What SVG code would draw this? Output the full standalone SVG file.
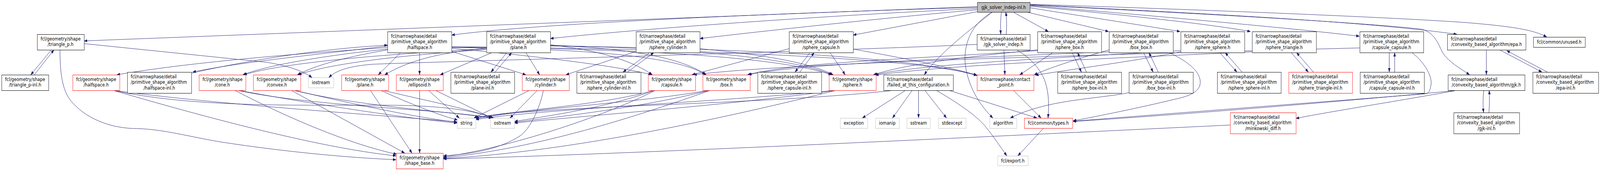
<svg xmlns="http://www.w3.org/2000/svg" width="5041" height="439" viewBox="0 0 5041 439" preserveAspectRatio="none">
<style>
svg{width:100vw;height:100vh;display:block}
.n{fill:#fff;stroke:#000;stroke-width:1}
.r{fill:#fff;stroke:#ff0000;stroke-width:1}
.x{fill:#fff;stroke:#bfbfbf;stroke-width:1}
.rt{fill:#bfbfbf;stroke:#000;stroke-width:1}
text{font-family:"DejaVu Sans","Liberation Sans",sans-serif;font-size:13px;fill:#000}
.m{text-anchor:middle}
#edges path{fill:none;stroke:#191970;stroke-width:1;marker-end:url(#a)}
</style>
<defs>
<marker id="a" markerWidth="10" markerHeight="8" refX="10" refY="4" orient="auto" markerUnits="userSpaceOnUse">
<path d="M0,0.5 L10,4 L0,7.5 z" fill="#191970" stroke="#191970" stroke-width="0.5"/>
</marker>
</defs>
<rect width="5041" height="439" fill="#fff"/>
<g id="edges">
<path d="M3079,17 L265,105"/>
<path d="M3079,19 C2400,35 1700,60 1423,90"/>
<path d="M3079,22 C2600,40 2000,75 1734,99"/>
<path d="M3079,25 C2800,45 2400,80 2205,99"/>
<path d="M3079,30 L2688,90"/>
<path d="M3126,31 C3060,75 2960,135 2912,192"/>
<path d="M3127,31 C3040,70 3035,140 3043,175 C3055,230 3090,272 3128,303"/>
<path d="M3155,31 C3152,50 3152,70 3153,88"/>
<path d="M3170,88 C3172,70 3172,50 3169,31"/>
<path d="M3192,31 L3303,81"/>
<path d="M3235,31 L3493,81"/>
<path d="M3245,20 C3400,40 3600,65 3718,81"/>
<path d="M3245,16 C3500,35 3800,60 3940,81"/>
<path d="M3245,14 C3700,45 4100,75 4283,93"/>
<path d="M3245,12 C3800,35 4300,55 4590,88"/>
<path d="M3245,13 C3800,36 4300,58 4480,75 C4520,85 4530,110 4545,135 C4565,160 4600,175 4630,192"/>
<path d="M3245,11 C3800,25 4400,45 4620,58 C4750,67 4830,75 4873,95"/>
<path d="M3163,128 L3166,192"/>
<path d="M3203,128 C3250,150 3280,180 3293,210 C3305,240 3305,270 3302,303"/>
<path d="M3078,114 C2500,135 1300,160 1173,165 C1100,170 1060,180 1036,199"/>
<path d="M162,128 L97,192"/>
<path d="M108,192 L170,128"/>
<path d="M189,128 C189,200 200,240 230,265 C280,310 360,330 430,330 C520,332 600,352 700,365 C900,390 1100,405 1248,410"/>
<path d="M265,112 L841,160 C900,168 950,180 983,199"/>
<path d="M1221,118 C1000,140 750,160 607,185"/>
<path d="M603,188 C750,160 1000,125 1221,116"/>
<path d="M1221,122 C900,140 600,160 368,192"/>
<path d="M1221,126 C1050,140 850,165 765,192"/>
<path d="M1221,128 C1100,145 1000,165 937,192"/>
<path d="M1262,135 L1192,192"/>
<path d="M1322,135 L1322,192"/>
<path d="M1423,132 L1657,192"/>
<path d="M1423,124 C1700,145 1950,170 2053,192"/>
<path d="M1423,122 C1900,125 2150,150 2222,192"/>
<path d="M1423,121 C2000,125 2450,145 2620,192"/>
<path d="M1423,120 C2200,125 2900,150 3078,193"/>
<path d="M1597,135 L1547,185"/>
<path d="M1560,185 L1612,135"/>
<path d="M1550,135 L1387,192"/>
<path d="M1533,123 C1400,135 1300,150 1212,192"/>
<path d="M1533,125 C1200,140 900,160 768,192"/>
<path d="M1533,127 C1300,140 1050,160 940,192"/>
<path d="M1657,135 L1700,192"/>
<path d="M1734,115 C1900,130 2000,160 2055,192"/>
<path d="M1734,116 C2000,125 2150,150 2225,192"/>
<path d="M1734,117 C2200,125 2500,150 2622,192"/>
<path d="M1734,118 C2400,125 2900,150 3078,194"/>
<path d="M2047,135 L1963,185"/>
<path d="M1977,185 L2060,135"/>
<path d="M2004,132 L1783,192"/>
<path d="M2205,125 C2400,140 2550,160 2625,192"/>
<path d="M2552,135 L2505,185"/>
<path d="M2520,185 L2565,135"/>
<path d="M2486,125 L2180,192"/>
<path d="M2615,135 L2663,192"/>
<path d="M2688,126 C2850,150 2980,170 3078,193"/>
<path d="M3378,135 L3407,185"/>
<path d="M3423,185 L3395,135"/>
<path d="M3317,135 L3213,192"/>
<path d="M3269,130 C2900,150 2500,160 2355,192"/>
<path d="M3269,128 C3050,145 2850,165 2752,192"/>
<path d="M3603,135 L3633,185"/>
<path d="M3649,185 L3620,135"/>
<path d="M3494,133 C3000,150 2500,165 2358,192"/>
<path d="M3494,128 C3400,150 3320,170 3258,192"/>
<path d="M3683,135 C3750,160 3790,190 3780,220 C3770,240 3740,248 3700,255 C3600,275 3450,300 3381,310"/>
<path d="M3557,238 C3450,255 3300,255 3183,303"/>
<path d="M3843,135 L3897,185"/>
<path d="M3913,185 L3860,135"/>
<path d="M3720,130 C3300,150 2900,165 2755,192"/>
<path d="M3720,133 C3550,160 3400,175 3262,193"/>
<path d="M4068,135 L4122,185"/>
<path d="M4138,185 L4085,135"/>
<path d="M3945,133 C3500,150 3000,165 2758,193"/>
<path d="M4377,135 L4377,185"/>
<path d="M4394,185 L4394,135"/>
<path d="M4284,123 C3500,140 2500,160 2185,192"/>
<path d="M4448,135 C4490,160 4515,200 4508,220 C4505,235 4500,240 4490,241 L3381,311"/>
<path d="M4683,128 L4683,192"/>
<path d="M4725,128 L4858,185"/>
<path d="M4875,185 L4747,130"/>
<path d="M4675,232 C4672,250 4672,270 4674,289"/>
<path d="M4691,289 C4693,270 4693,250 4692,232"/>
<path d="M4583,233 C4400,260 4200,285 4083,304"/>
<path d="M4593,232 C4300,255 3800,290 3381,312"/>
<path d="M3876,321 C3000,355 2000,395 1397,408"/>
<path d="M2853,232 L2717,303"/>
<path d="M2874,232 L2812,303"/>
<path d="M2894,232 L2894,303"/>
<path d="M2914,232 L2982,303"/>
<path d="M2990,232 L3267,303"/>
<path d="M2950,232 C3030,270 3080,300 3105,325 C3130,350 3150,375 3172,400"/>
<path d="M2815,232 C2400,270 1700,270 1495,303"/>
<path d="M3193,232 L3280,303"/>
<path d="M3288,329 L3207,400"/>
<path d="M357,232 C700,270 1200,295 1440,313"/>
<path d="M357,232 C600,275 900,270 1200,270 C1400,270 1500,285 1552,303"/>
<path d="M357,232 C600,290 1000,380 1248,400"/>
<path d="M753,232 C1000,270 1300,305 1440,316"/>
<path d="M747,232 C1000,275 1400,280 1550,303"/>
<path d="M740,232 C900,300 1100,370 1250,396"/>
<path d="M928,232 C1100,265 1300,300 1440,314"/>
<path d="M925,232 C1150,275 1400,285 1552,303"/>
<path d="M918,232 L1275,393"/>
<path d="M1167,232 L1298,393"/>
<path d="M1207,232 C1350,260 1480,280 1555,303"/>
<path d="M1200,232 C1300,270 1400,300 1442,308"/>
<path d="M1322,232 L1322,393"/>
<path d="M1350,232 L1447,303"/>
<path d="M1372,232 L1550,303"/>
<path d="M1668,232 L1493,303"/>
<path d="M1693,232 L1607,303"/>
<path d="M1712,232 C1700,280 1670,330 1640,348 C1580,380 1500,395 1397,400"/>
<path d="M2060,232 C1900,270 1600,285 1497,303"/>
<path d="M2062,232 C1900,280 1700,300 1621,312"/>
<path d="M2065,232 C1900,300 1600,380 1397,403"/>
<path d="M2233,232 C2000,265 1650,280 1499,305"/>
<path d="M2235,232 C2000,280 1750,300 1621,314"/>
<path d="M2238,232 C2000,300 1700,380 1397,405"/>
<path d="M2630,232 C2300,260 1700,280 1499,307"/>
<path d="M2632,232 C2300,270 1800,300 1621,316"/>
<path d="M2634,232 C2300,300 1800,390 1397,407"/>
</g>
<g id="node-root"><rect class="rt" x="3079.5" y="6.5" width="166" height="25"/><text class="m" x="3162" y="23">gjk_solver_indep-inl.h</text></g>
<g id="node-gsi"><rect class="n" x="3078.5" y="88.5" width="167" height="40"/><text x="3089" y="104">fcl/narrowphase/detail</text><text class="m" x="3161.5" y="118.5">/gjk_solver_indep.h</text></g>
<g id="node-tri"><rect class="n" x="117.5" y="88.5" width="148" height="40"/><text x="128" y="104">fcl/geometry/shape</text><text class="m" x="191" y="118.5">/triangle_p.h</text></g>
<g id="node-tri-inl"><rect class="n" x="5.5" y="192.5" width="148" height="40"/><text x="16" y="208">fcl/geometry/shape</text><text class="m" x="79" y="222.5">/triangle_p-inl.h</text></g>
<g id="node-hs-shape"><rect class="r" x="229.5" y="192.5" width="148" height="40"/><text x="240" y="208">fcl/geometry/shape</text><text class="m" x="303" y="222.5">/halfspace.h</text></g>
<g id="node-hs-inl"><rect class="n" x="401.5" y="185.5" width="202" height="54"/><text x="412" y="201">fcl/narrowphase/detail</text><text x="412" y="215.5">/primitive_shape_algorithm</text><text class="m" x="502" y="230">/halfspace-inl.h</text></g>
<g id="node-cone"><rect class="r" x="627.5" y="192.5" width="147" height="40"/><text x="638" y="208">fcl/geometry/shape</text><text class="m" x="700.5" y="222.5">/cone.h</text></g>
<g id="node-convex"><rect class="r" x="798.5" y="192.5" width="149" height="40"/><text x="809" y="208">fcl/geometry/shape</text><text class="m" x="872.5" y="222.5">/convex.h</text></g>
<g id="node-iostream"><rect class="x" x="971.5" y="199.5" width="80" height="26"/><text class="m" x="1011" y="216">iostream</text></g>
<g id="node-plane-shape"><rect class="r" x="1076.5" y="192.5" width="148" height="40"/><text x="1087" y="208">fcl/geometry/shape</text><text class="m" x="1150" y="222.5">/plane.h</text></g>
<g id="node-np-hs"><rect class="n" x="1221.5" y="81.5" width="202" height="54"/><text x="1232" y="97">fcl/narrowphase/detail</text><text x="1232" y="111.5">/primitive_shape_algorithm</text><text class="m" x="1322" y="126">/halfspace.h</text></g>
<g id="node-ellipsoid"><rect class="r" x="1248.5" y="192.5" width="148" height="40"/><text x="1259" y="208">fcl/geometry/shape</text><text class="m" x="1322" y="222.5">/ellipsoid.h</text></g>
<g id="node-shape-base"><rect class="r" x="1248.5" y="393.5" width="148" height="40"/><text x="1259" y="409">fcl/geometry/shape</text><text class="m" x="1322" y="423.5">/shape_base.h</text></g>
<g id="node-np-plane"><rect class="n" x="1533.5" y="81.5" width="201" height="54"/><text x="1544" y="97">fcl/narrowphase/detail</text><text x="1544" y="111.5">/primitive_shape_algorithm</text><text class="m" x="1633.5" y="126">/plane.h</text></g>
<g id="node-plane-inl"><rect class="n" x="1420.5" y="185.5" width="201" height="54"/><text x="1431" y="201">fcl/narrowphase/detail</text><text x="1431" y="215.5">/primitive_shape_algorithm</text><text class="m" x="1520.5" y="230">/plane-inl.h</text></g>
<g id="node-string"><rect class="x" x="1440.5" y="303.5" width="59" height="26"/><text class="m" x="1469.5" y="320">string</text></g>
<g id="node-ostream"><rect class="x" x="1545.5" y="303.5" width="76" height="26"/><text class="m" x="1583" y="320">ostream</text></g>
<g id="node-cylinder"><rect class="r" x="1645.5" y="192.5" width="148" height="40"/><text x="1656" y="208">fcl/geometry/shape</text><text class="m" x="1719" y="222.5">/cylinder.h</text></g>
<g id="node-sc-inl"><rect class="n" x="1817.5" y="185.5" width="202" height="54"/><text x="1828" y="201">fcl/narrowphase/detail</text><text x="1828" y="215.5">/primitive_shape_algorithm</text><text class="m" x="1918" y="230">/sphere_cylinder-inl.h</text></g>
<g id="node-sc"><rect class="n" x="2004.5" y="81.5" width="201" height="54"/><text x="2015" y="97">fcl/narrowphase/detail</text><text x="2015" y="111.5">/primitive_shape_algorithm</text><text class="m" x="2104.5" y="126">/sphere_cylinder.h</text></g>
<g id="node-capsule"><rect class="r" x="2042.5" y="192.5" width="149" height="40"/><text x="2053" y="208">fcl/geometry/shape</text><text class="m" x="2116.5" y="222.5">/capsule.h</text></g>
<g id="node-box"><rect class="r" x="2214.5" y="192.5" width="149" height="40"/><text x="2225" y="208">fcl/geometry/shape</text><text class="m" x="2288.5" y="222.5">/box.h</text></g>
<g id="node-scap-inl"><rect class="n" x="2387.5" y="185.5" width="201" height="54"/><text x="2398" y="201">fcl/narrowphase/detail</text><text x="2398" y="215.5">/primitive_shape_algorithm</text><text class="m" x="2487.5" y="230">/sphere_capsule-inl.h</text></g>
<g id="node-scap"><rect class="n" x="2486.5" y="81.5" width="202" height="54"/><text x="2497" y="97">fcl/narrowphase/detail</text><text x="2497" y="111.5">/primitive_shape_algorithm</text><text class="m" x="2587" y="126">/sphere_capsule.h</text></g>
<g id="node-sphere"><rect class="r" x="2612.5" y="192.5" width="148" height="40"/><text x="2623" y="208">fcl/geometry/shape</text><text class="m" x="2686" y="222.5">/sphere.h</text></g>
<g id="node-failed"><rect class="n" x="2784.5" y="192.5" width="219" height="40"/><text x="2795" y="208">fcl/narrowphase/detail</text><text class="m" x="2893.5" y="222.5">/failed_at_this_configuration.h</text></g>
<g id="node-exception"><rect class="x" x="2647.5" y="303.5" width="86" height="26"/><text class="m" x="2690" y="320">exception</text></g>
<g id="node-iomanip"><rect class="x" x="2758.5" y="303.5" width="75" height="26"/><text class="m" x="2795.5" y="320">iomanip</text></g>
<g id="node-sstream"><rect class="x" x="2857.5" y="303.5" width="74" height="26"/><text class="m" x="2894" y="320">sstream</text></g>
<g id="node-stdexcept"><rect class="x" x="2956.5" y="303.5" width="87" height="26"/><text class="m" x="2999.5" y="320">stdexcept</text></g>
<g id="node-algorithm"><rect class="x" x="3118.5" y="303.5" width="85" height="26"/><text class="m" x="3160.5" y="320">algorithm</text></g>
<g id="node-types"><rect class="r" x="3227.5" y="303.5" width="152" height="26"/><text class="m" x="3303" y="320">fcl/common/types.h</text></g>
<g id="node-export"><rect class="x" x="3143.5" y="400.5" width="96" height="25"/><text class="m" x="3191" y="417">fcl/export.h</text></g>
<g id="node-contact"><rect class="r" x="3078.5" y="192.5" width="179" height="40"/><text x="3089" y="208">fcl/narrowphase/contact</text><text class="m" x="3167.5" y="222.5">_point.h</text></g>
<g id="node-sbox"><rect class="n" x="3269.5" y="81.5" width="201" height="54"/><text x="3280" y="97">fcl/narrowphase/detail</text><text x="3280" y="111.5">/primitive_shape_algorithm</text><text class="m" x="3369.5" y="126">/sphere_box.h</text></g>
<g id="node-sbox-inl"><rect class="n" x="3332.5" y="185.5" width="201" height="54"/><text x="3343" y="201">fcl/narrowphase/detail</text><text x="3343" y="215.5">/primitive_shape_algorithm</text><text class="m" x="3432.5" y="230">/sphere_box-inl.h</text></g>
<g id="node-bb"><rect class="n" x="3494.5" y="81.5" width="202" height="54"/><text x="3505" y="97">fcl/narrowphase/detail</text><text x="3505" y="111.5">/primitive_shape_algorithm</text><text class="m" x="3595" y="126">/box_box.h</text></g>
<g id="node-bb-inl"><rect class="n" x="3557.5" y="185.5" width="202" height="54"/><text x="3568" y="201">fcl/narrowphase/detail</text><text x="3568" y="215.5">/primitive_shape_algorithm</text><text class="m" x="3658" y="230">/box_box-inl.h</text></g>
<g id="node-ss"><rect class="n" x="3720.5" y="81.5" width="201" height="54"/><text x="3731" y="97">fcl/narrowphase/detail</text><text x="3731" y="111.5">/primitive_shape_algorithm</text><text class="m" x="3820.5" y="126">/sphere_sphere.h</text></g>
<g id="node-ss-inl"><rect class="n" x="3835.5" y="185.5" width="201" height="54"/><text x="3846" y="201">fcl/narrowphase/detail</text><text x="3846" y="215.5">/primitive_shape_algorithm</text><text class="m" x="3935.5" y="230">/sphere_sphere-inl.h</text></g>
<g id="node-st"><rect class="n" x="3945.5" y="81.5" width="202" height="54"/><text x="3956" y="97">fcl/narrowphase/detail</text><text x="3956" y="111.5">/primitive_shape_algorithm</text><text class="m" x="4046" y="126">/sphere_triangle.h</text></g>
<g id="node-st-inl"><rect class="r" x="4060.5" y="185.5" width="201" height="54"/><text x="4071" y="201">fcl/narrowphase/detail</text><text x="4071" y="215.5">/primitive_shape_algorithm</text><text class="m" x="4160.5" y="230">/sphere_triangle-inl.h</text></g>
<g id="node-mink"><rect class="r" x="3876.5" y="289.5" width="207" height="54"/><text x="3887" y="305">fcl/narrowphase/detail</text><text x="3887" y="319.5">/convexity_based_algorithm</text><text class="m" x="3979.5" y="334">/minkowski_diff.h</text></g>
<g id="node-cc"><rect class="n" x="4284.5" y="81.5" width="201" height="54"/><text x="4295" y="97">fcl/narrowphase/detail</text><text x="4295" y="111.5">/primitive_shape_algorithm</text><text class="m" x="4384.5" y="126">/capsule_capsule.h</text></g>
<g id="node-cc-inl"><rect class="n" x="4285.5" y="185.5" width="202" height="54"/><text x="4296" y="201">fcl/narrowphase/detail</text><text x="4296" y="215.5">/primitive_shape_algorithm</text><text class="m" x="4386" y="230">/capsule_capsule-inl.h</text></g>
<g id="node-epa"><rect class="n" x="4560.5" y="88.5" width="247" height="40"/><text x="4571" y="104">fcl/narrowphase/detail</text><text class="m" x="4683.5" y="118.5">/convexity_based_algorithm/epa.h</text></g>
<g id="node-gjk"><rect class="n" x="4562.5" y="192.5" width="242" height="40"/><text x="4573" y="208">fcl/narrowphase/detail</text><text class="m" x="4683" y="222.5">/convexity_based_algorithm/gjk.h</text></g>
<g id="node-gjk-inl"><rect class="n" x="4580.5" y="289.5" width="207" height="54"/><text x="4591" y="305">fcl/narrowphase/detail</text><text x="4591" y="319.5">/convexity_based_algorithm</text><text class="m" x="4683.5" y="334">/gjk-inl.h</text></g>
<g id="node-unused"><rect class="n" x="4831.5" y="95.5" width="163" height="26"/><text class="m" x="4912.5" y="112">fcl/common/unused.h</text></g>
<g id="node-epa-inl"><rect class="n" x="4829.5" y="185.5" width="207" height="54"/><text x="4840" y="201">fcl/narrowphase/detail</text><text x="4840" y="215.5">/convexity_based_algorithm</text><text class="m" x="4932.5" y="230">/epa-inl.h</text></g>
</svg>
